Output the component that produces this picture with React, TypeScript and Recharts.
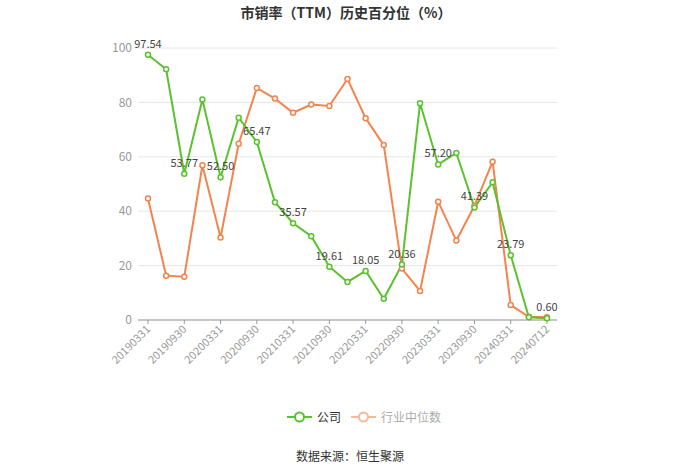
import React from "react";
import { CartesianGrid, LabelList, Line, LineChart, XAxis, YAxis } from "recharts";

const dates = [
  "20190331", "20190630", "20190930", "20191231",
  "20200331", "20200630", "20200930", "20201231",
  "20210331", "20210630", "20210930", "20211231",
  "20220331", "20220630", "20220930", "20221231",
  "20230331", "20230630", "20230930", "20231231",
  "20240331", "20240630", "20240712",
];

const company = [
  97.54, 92.2, 53.77, 81.1, 52.5, 74.4, 65.47, 43.3, 35.57, 30.8, 19.61, 14.0,
  18.05, 7.8, 20.36, 79.7, 57.2, 61.4, 41.39, 50.6, 23.79, 1.0, 0.6,
];

const industry = [
  44.7, 16.3, 15.9, 56.9, 30.3, 64.8, 85.3, 81.4, 76.2, 79.2, 78.7, 88.6,
  74.2, 64.3, 18.9, 10.7, 43.5, 29.2, 42.0, 58.2, 5.5, 1.2, 1.0,
];

const yTicks = [0, 20, 40, 60, 80, 100];

const green = "#5ac22e";
const orange = "#f4844e";

const data = dates.map((d, i) => ({ date: d, 公司: company[i], 行业中位数: industry[i] }));

const font = "'Microsoft YaHei', 'Noto Sans CJK SC', 'Noto Sans', sans-serif";

const EveryOtherLabel = (props: any) => {
  const { x, y, value, index } = props;
  if (index % 2 !== 0) return null;
  return (
    <text x={x} y={y - 7} textAnchor="middle" fontSize={11} fill="#444" fontFamily={font}>
      {Number(value).toFixed(2)}
    </text>
  );
};

const RotatedTick = (props: any) => {
  const { x, y, payload } = props;
  return (
    <text
      x={x + 3}
      y={y + 4}
      textAnchor="end"
      fontSize={11}
      fill="#999"
      fontFamily={font}
      transform={`rotate(-45, ${x + 3}, ${y + 4})`}
    >
      {payload.value}
    </text>
  );
};

const LegendItem = ({ name, colour, textColour }: { name: string; colour: string; textColour: string }) => (
  <span style={{ display: "inline-flex", alignItems: "center", marginRight: 10 }}>
    <svg width={25} height={14}>
      <line x1={0} y1={7} x2={25} y2={7} stroke={colour} strokeWidth={2} />
      <circle cx={12.5} cy={7} r={4.5} fill="#fff" stroke={colour} strokeWidth={2} />
    </svg>
    <span style={{ marginLeft: 5, fontSize: 12, color: textColour }}>{name}</span>
  </span>
);

export default function App() {
  return (
    <div style={{ position: "absolute", left: 0, top: 0, width: 700, height: 474, background: "#fff", fontFamily: font }}>
      <div style={{ position: "absolute", top: 2, left: 0, width: 692, textAlign: "center", fontSize: 14, fontWeight: "bold", color: "#333" }}>
        市销率（TTM）历史百分位（%）
      </div>
      <LineChart width={700} height={474} data={data} margin={{ top: 48, right: 143, left: 98, bottom: 104 }}>
        <CartesianGrid vertical={false} stroke="#e6e6e6" />
        <XAxis
          dataKey="date"
          interval={1}
          padding={{ left: 10, right: 10 }}
          stroke="#999"
          tickSize={4}
          tick={<RotatedTick />}
          height={50}
        />
        <YAxis
          domain={[0, 100]}
          ticks={yTicks}
          axisLine={false}
          tickLine={false}
          tickMargin={0}
          width={40}
          tick={{ fontSize: 12, fill: "#999" }}
        />
        <Line
          type="linear"
          dataKey="行业中位数"
          stroke={orange}
          strokeWidth={2}
          dot={{ r: 2.5, fill: "#fff", stroke: orange, strokeWidth: 1.5 }}
          isAnimationActive={false}
        />
        <Line
          type="linear"
          dataKey="公司"
          stroke={green}
          strokeWidth={2}
          dot={{ r: 2.5, fill: "#fff", stroke: green, strokeWidth: 1.5 }}
          isAnimationActive={false}
        >
          <LabelList dataKey="公司" content={<EveryOtherLabel />} />
        </Line>
      </LineChart>
      <div style={{ position: "absolute", top: 408, left: 287, display: "flex", alignItems: "center" }}>
        <LegendItem name="公司" colour={green} textColour="#333" />
        <LegendItem name="行业中位数" colour="#f8b89a" textColour="#aaa" />
      </div>
      <div style={{ position: "absolute", top: 447, left: 0, width: 700, textAlign: "center", fontSize: 12, color: "#333" }}>
        数据来源：恒生聚源
      </div>
    </div>
  );
}
